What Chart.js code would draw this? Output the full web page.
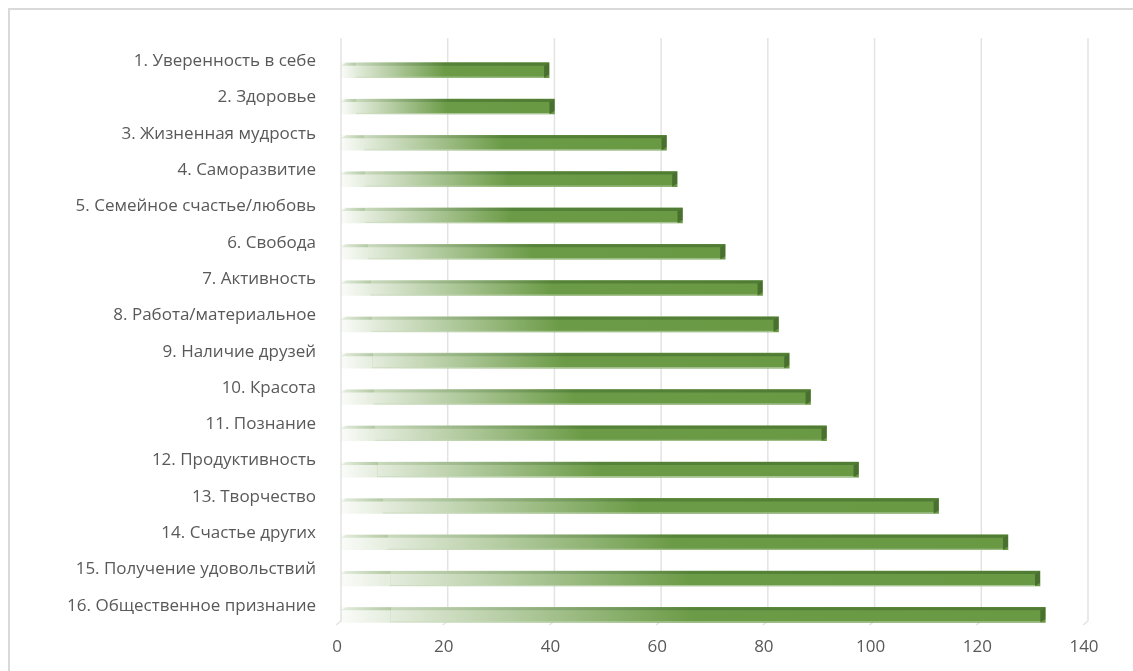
<!DOCTYPE html>
<html lang="ru">
<head>
<meta charset="utf-8">
<title>Ценности</title>
<script src="https://cdn.jsdelivr.net/npm/chart.js@4.4.1/dist/chart.umd.min.js"></script>
<style>
  html, body { margin: 0; padding: 0; background: #ffffff; overflow: hidden; }
  #wrap { position: absolute; left: 0; top: 0; width: 1133px; height: 671px; }
  #frame { position: absolute; left: 8px; top: 8px; width: 1200px; height: 700px;
           border: 2px solid #d9d9d9; box-sizing: border-box; pointer-events: none; }
</style>
</head>
<body>
<div id="wrap"><canvas id="chart"></canvas></div>
<div id="frame"></div>
<script>
// Категории (сверху вниз) и их значения
const categories = [
  '1. Уверенность в себе',
  '2. Здоровье',
  '3. Жизненная мудрость',
  '4. Саморазвитие',
  '5. Семейное счастье/любовь',
  '6. Свобода',
  '7. Активность',
  '8. Работа/материальное',
  '9. Наличие друзей',
  '10. Красота',
  '11. Познание',
  '12. Продуктивность',
  '13. Творчество',
  '14. Счастье других',
  '15. Получение удовольствий',
  '16. Общественное признание'
];
const values = [39, 40, 61, 63, 64, 72, 79, 82, 84, 88, 91, 97, 112, 125, 131, 132];

// Шкала значений
const axisMin = 0;
const axisMax = 140;
const axisStep = 20;

const TEXT_COLOR = '#595959';
const FONT = "'Open Sans', 'DejaVu Sans', sans-serif";

function linGrad(ctx, x0, x1, stops) {
  const g = ctx.createLinearGradient(x0, 0, Math.max(x1, x0 + 1), 0);
  stops.forEach(([o, c]) => g.addColorStop(o, c));
  return g;
}

const frontStops = [
  [0.00, 'rgba(160,190,135,0.05)'],
  [0.07, 'rgba(160,190,135,0.28)'],
  [0.071, '#e4ecdd'],
  [0.50, '#6b9b46'],
  [1.00, '#6a9944']
];
const topStops = [
  [0.00, 'rgba(120,160,95,0.15)'],
  [0.07, 'rgba(120,160,95,0.45)'],
  [0.071, '#c9d9bd'],
  [0.50, '#56833a'],
  [1.00, '#507b34']
];

// Фоновые линии сетки на задней стенке и их скос к полу
const backWall = {
  id: 'backWall',
  beforeDatasetsDraw(chart) {
    const { ctx, scales: { x } } = chart;
    ctx.save();
    ctx.strokeStyle = '#e3e3e3';
    ctx.lineWidth = 1.5;
    x.ticks.forEach(t => {
      const px = x.getPixelForValue(t.value);
      ctx.beginPath();
      ctx.moveTo(px, 38);
      ctx.lineTo(px, 621);
      ctx.lineTo(px - 5, 625);
      ctx.stroke();
    });
    ctx.restore();
  }
};

// Верхняя и торцевая грани объёмных столбцов
const barFaces = {
  id: 'barFaces',
  afterDatasetsDraw(chart) {
    const { ctx } = chart;
    const dx = 5, dy = 3;
    chart.getDatasetMeta(0).data.forEach(bar => {
      const { x, y, base, height } = bar.getProps(['x', 'y', 'base', 'height'], true);
      const top = y - height / 2;
      const bottom = y + height / 2;
      ctx.save();
      // верхняя грань
      ctx.fillStyle = linGrad(ctx, base, x, topStops);
      ctx.beginPath();
      ctx.moveTo(base, top + dy);
      ctx.lineTo(base + dx, top);
      ctx.lineTo(x, top);
      ctx.lineTo(x - dx, top + dy);
      ctx.closePath();
      ctx.fill();
      // торец
      ctx.fillStyle = '#4a7030';
      ctx.beginPath();
      ctx.moveTo(x - dx, top + dy);
      ctx.lineTo(x, top);
      ctx.lineTo(x, bottom - dy);
      ctx.lineTo(x - dx, bottom);
      ctx.closePath();
      ctx.fill();
      // светлая кромка снизу
      const edgeStart = base + 0.07 * (x - base);
      ctx.fillStyle = 'rgba(200,218,188,0.7)';
      ctx.fillRect(edgeStart, bottom - 1, (x - dx) - edgeStart, 1);
      ctx.restore();
    });
  }
};

new Chart(document.getElementById('chart'), {
  type: 'bar',
  data: {
    labels: categories,
    datasets: [{
      data: values,
      barThickness: 15,
      borderWidth: 0,
      backgroundColor(context) {
        const chart = context.chart;
        const xs = chart.scales.x;
        if (!xs || context.raw === undefined) return '#6b9b46';
        const x0 = xs.getPixelForValue(0);
        const x1 = xs.getPixelForValue(context.raw);
        if (!Number.isFinite(x0) || !Number.isFinite(x1)) return '#6b9b46';
        return linGrad(chart.ctx, x0, x1, frontStops);
      }
    }]
  },
  options: {
    indexAxis: 'y',
    responsive: true,
    maintainAspectRatio: false,
    animation: false,
    layout: { padding: { top: 52, right: 45, bottom: 0, left: 0 } },
    plugins: {
      legend: { display: false },
      tooltip: { enabled: false }
    },
    scales: {
      x: {
        min: axisMin,
        max: axisMax,
        border: { display: false },
        grid: { display: false, drawTicks: false },
        afterFit(scale) { scale.height = 38; },
        ticks: {
          stepSize: axisStep,
          padding: 4,
          labelOffset: -4,
          color: TEXT_COLOR,
          font: { family: FONT, size: 17 }
        }
      },
      y: {
        border: { display: false },
        grid: { display: false, drawTicks: false },
        afterFit(scale) { scale.width = 341; },
        ticks: {
          padding: 25,
          labelOffset: -9,
          color: TEXT_COLOR,
          autoSkip: false,
          font: { family: FONT, size: 17 }
        }
      }
    }
  },
  plugins: [backWall, barFaces]
});
</script>
</body>
</html>
